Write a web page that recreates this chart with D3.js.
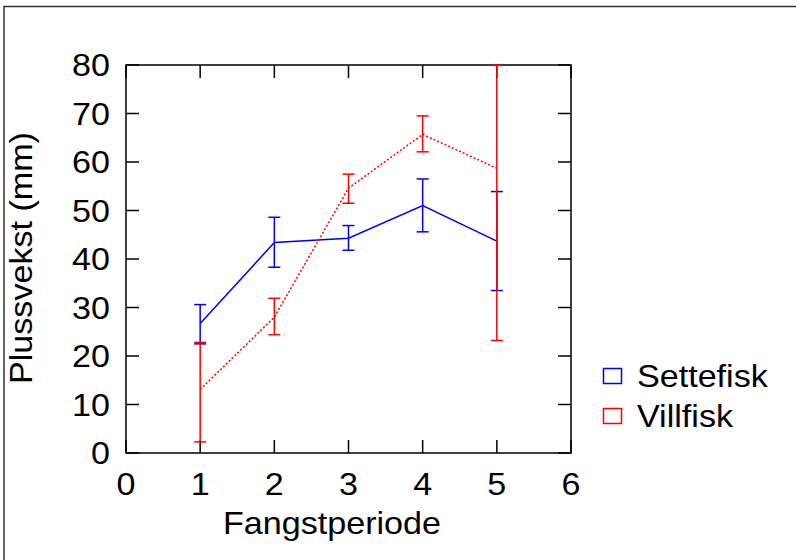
<!DOCTYPE html>
<html>
<head>
<meta charset="utf-8">
<script src="https://d3js.org/d3.v7.min.js"></script>
<style>
  body { margin: 0; background: #fff; }
  text { font-family: "Liberation Sans", Arial, sans-serif; fill: #000; }
</style>
</head>
<body>
<div id="chartContainer"></div>
<script type="text/javascript">
// data (plussvekst in mm per fangstperiode)
var periods = [1, 2, 3, 4, 5];
var setteMean = [26.7, 43.4, 44.3, 51.0, 43.7];
var setteLow  = [22.5, 38.3, 41.8, 45.6, 33.5];
var setteHigh = [30.6, 48.6, 46.9, 56.5, 53.9];
var villMean = [13.1, 28.0, 54.6, 65.7, 58.7];
var villLow  = [2.3, 24.4, 51.5, 62.1, 23.2];
var villHigh = [22.8, 31.9, 57.5, 69.5, 80];
var xTicks = [0, 1, 2, 3, 4, 5, 6];
var yTicks = [0, 10, 20, 30, 40, 50, 60, 70, 80];
var seriesNames = ["Settefisk", "Villfisk"];
var seriesColors = ["#0000ff", "#ff0000"];

var W = 796, H = 560;
var svg = d3.select("#chartContainer").append("svg")
    .attr("width", W).attr("height", H);

// outer frame (only top and left edge are visible)
svg.append("path")
    .attr("d", "M4,560 L4,6.5 L796,6.5")
    .attr("fill", "none").attr("stroke", "#333").attr("stroke-width", 1.5);

var pLeft = 126, pRight = 571, pTop = 65, pBottom = 453;
var x = d3.scaleLinear().domain([0, 6]).range([pLeft, pRight]);
var y = d3.scaleLinear().domain([0, 80]).range([pBottom, pTop]);

var fontSize = 31;
var tickLen = 13;

// the reference font is a bit wider than Liberation Sans, so stretch it
function addText(x0, y0, str, anchor, rot) {
    return svg.append("text")
        .attr("transform", "translate(" + x0 + "," + y0 + ")" +
              (rot ? " rotate(" + rot + ")" : "") + " scale(1.1,1)")
        .attr("text-anchor", anchor || "start")
        .style("font-size", fontSize + "px")
        .text(str);
}

// axes: ticks inward on all four sides
var axisG = svg.append("g");
axisG.append("rect")
    .attr("x", pLeft).attr("y", pTop)
    .attr("width", pRight - pLeft).attr("height", pBottom - pTop)
    .attr("fill", "none").attr("stroke", "#000").attr("stroke-width", 1.5);

xTicks.forEach(function(t) {
    axisG.append("line").attr("x1", x(t)).attr("x2", x(t))
        .attr("y1", pBottom).attr("y2", pBottom - tickLen)
        .attr("stroke", "#000").attr("stroke-width", 1.5);
    axisG.append("line").attr("x1", x(t)).attr("x2", x(t))
        .attr("y1", pTop).attr("y2", pTop + tickLen)
        .attr("stroke", "#000").attr("stroke-width", 1.5);
    addText(x(t), pBottom + 42, t, "middle");
});

yTicks.forEach(function(t) {
    axisG.append("line").attr("x1", pLeft).attr("x2", pLeft + tickLen)
        .attr("y1", y(t)).attr("y2", y(t))
        .attr("stroke", "#000").attr("stroke-width", 1.5);
    axisG.append("line").attr("x1", pRight).attr("x2", pRight - tickLen)
        .attr("y1", y(t)).attr("y2", y(t))
        .attr("stroke", "#000").attr("stroke-width", 1.5);
    addText(110, y(t) + 11, t, "end");
});

// axis titles
addText(332, 534, "Fangstperiode", "middle");
addText(32, 258, "Plussvekst (mm)", "middle", -90);

// clip marks to the plot box
svg.append("clipPath").attr("id", "plotClip")
    .append("rect").attr("x", pLeft).attr("y", pTop - 1)
    .attr("width", pRight - pLeft).attr("height", pBottom - pTop + 2);

var series = [
    { mean: setteMean, low: setteLow, high: setteHigh, dash: null },
    { mean: villMean, low: villLow, high: villHigh, dash: "2,2" }
];

var line = d3.line()
    .x(function(d) { return x(d[0]); })
    .y(function(d) { return y(d[1]); });

var cap = 6;
series.forEach(function(s, si) {
    var g = svg.append("g").attr("clip-path", "url(#plotClip)");
    var col = seriesColors[si];
    var pts = periods.map(function(p, i) { return [p, s.mean[i]]; });
    g.append("path")
        .attr("d", line(pts))
        .attr("fill", "none").attr("stroke", col).attr("stroke-width", 1.5)
        .attr("stroke-dasharray", s.dash);
    // error bars
    periods.forEach(function(p, i) {
        var px = x(p);
        g.append("line").attr("x1", px).attr("x2", px)
            .attr("y1", y(s.low[i])).attr("y2", y(s.high[i]))
            .attr("stroke", col).attr("stroke-width", 1.5);
        [s.low[i], s.high[i]].forEach(function(v) {
            g.append("line").attr("x1", px - cap).attr("x2", px + cap)
                .attr("y1", y(v)).attr("y2", y(v))
                .attr("stroke", col).attr("stroke-width", 1.5);
        });
    });
});

// legend
seriesNames.forEach(function(name, i) {
    var ly = 368 + i * 40;
    svg.append("rect")
        .attr("x", 603.5).attr("y", ly + 0.5)
        .attr("width", 18).attr("height", 15)
        .attr("fill", "none").attr("stroke", seriesColors[i]).attr("stroke-width", 1.5);
    addText(637, ly + 19, name, "start");
});
</script>
</body>
</html>
